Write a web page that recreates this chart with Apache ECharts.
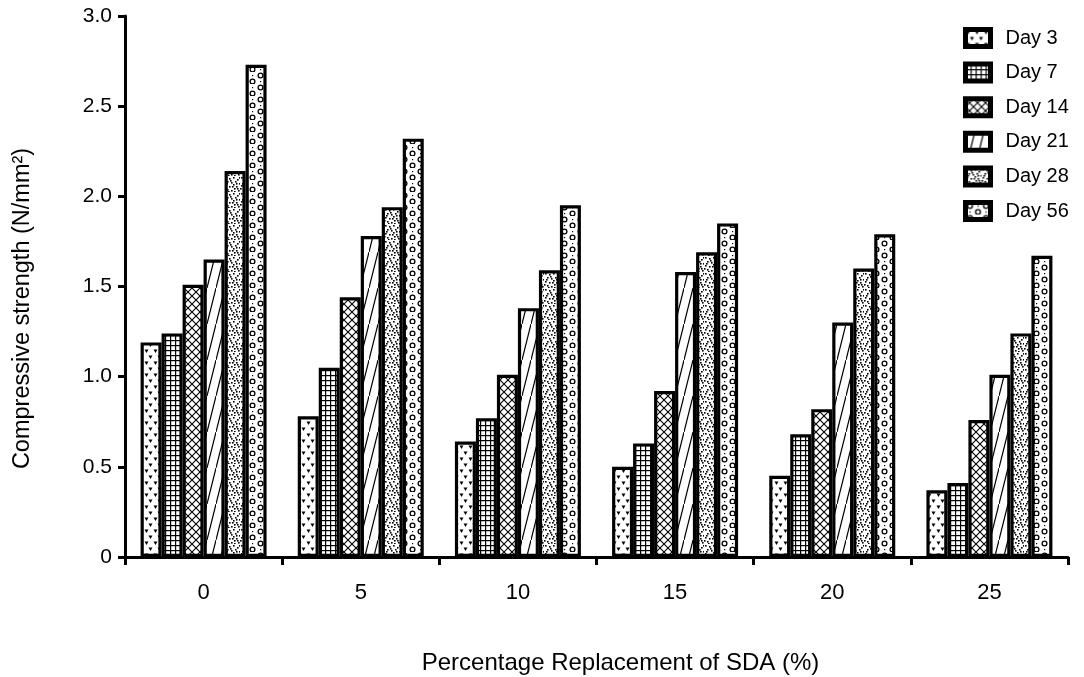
<!DOCTYPE html>
<html>
<head>
<meta charset="utf-8">
<script src="https://cdn.jsdelivr.net/npm/echarts@6/dist/echarts.min.js"></script>
<style>
html,body{margin:0;padding:0;background:#fff;}
#chart{width:1084px;height:677px;}
</style>
</head>
<body>
<div id="chart"></div>
<script>
// ---- data ----
var categories = ['0', '5', '10', '15', '20', '25'];
var seriesNames = ['Day 3', 'Day 7', 'Day 14', 'Day 21', 'Day 28', 'Day 56'];
var day3  = [1.19, 0.78, 0.64, 0.50, 0.45, 0.37];
var day7  = [1.24, 1.05, 0.77, 0.63, 0.68, 0.41];
var day14 = [1.51, 1.44, 1.01, 0.92, 0.82, 0.76];
var day21 = [1.65, 1.78, 1.38, 1.58, 1.30, 1.01];
var day28 = [2.14, 1.94, 1.59, 1.69, 1.60, 1.24];
var day56 = [2.73, 2.32, 1.95, 1.85, 1.79, 1.67];
var yTicks = [0, 0.5, 1.0, 1.5, 2.0, 2.5, 3.0];

// ---- hatch patterns (styling only) ----
function makeTile(w, h, draw) {
  var c = document.createElement('canvas');
  c.width = w; c.height = h;
  var g = c.getContext('2d');
  g.fillStyle = '#fff'; g.fillRect(0, 0, w, h);
  g.fillStyle = '#000'; g.strokeStyle = '#000';
  draw(g, w, h);
  return c;
}
var patterns = [
  // Day 3: sparse small dots / triangles
  makeTile(9, 12, function (g) {
    g.beginPath(); g.moveTo(0.5, 1.5); g.lineTo(4.5, 1.5); g.lineTo(2.5, 5); g.fill();
    g.beginPath(); g.moveTo(4.5, 7.5); g.lineTo(8.5, 7.5); g.lineTo(6.5, 11); g.fill();
  }),
  // Day 7: square grid
  makeTile(5, 5, function (g) {
    g.fillRect(0, 0, 5, 1.2); g.fillRect(0, 0, 1.2, 5);
  }),
  // Day 14: diagonal cross hatch
  makeTile(8, 8, function (g) {
    g.lineWidth = 1.1;
    g.beginPath(); g.moveTo(0, 0); g.lineTo(8, 8); g.moveTo(8, 0); g.lineTo(0, 8); g.stroke();
  }),
  // Day 21: steep diagonal lines
  makeTile(9, 36, function (g) {
    g.lineWidth = 1.2;
    g.beginPath(); g.moveTo(0, 36); g.lineTo(9, 0); g.stroke();
  }),
  // Day 28: dense stipple
  makeTile(16, 16, function (g) {
    var pts = [[1,1],[5,2],[9,1],[13,3],[3,5],[7,6],[11,5],[15,7],[1,9],[5,10],[9,8],[12,10],[3,13],[7,14],[10,12],[14,14],[6,4],[13,12],[2,7],[10,15],[0,12],[8,10],[15,1],[4,15],[12,7]];
    for (var i = 0; i < pts.length; i++) g.fillRect(pts[i][0], pts[i][1], 1.6, 1.6);
  }),
  // Day 56: small circles
  makeTile(16, 12, function (g) {
    g.lineWidth = 1.3;
    g.beginPath(); g.arc(4.5, 3.5, 2.4, 0, Math.PI * 2); g.stroke();
    g.beginPath(); g.arc(12.5, 9.5, 2.4, 0, Math.PI * 2); g.stroke();
    g.fillRect(12, 3, 1.2, 1.2); g.fillRect(4, 9, 1.2, 1.2);
  })
];

var values = [day3, day7, day14, day21, day28, day56];
var FONT = 'Liberation Sans, Arial, sans-serif';

var series = seriesNames.map(function (name, i) {
  return {
    name: name,
    type: 'bar',
    data: values[i],
    barWidth: 21,
    barGap: '0%',
    itemStyle: {
      color: { image: patterns[i], repeat: 'repeat' },
      borderColor: '#000',
      borderWidth: 3.2
    },
    emphasis: { disabled: true }
  };
});

var chart = echarts.init(document.getElementById('chart'));
chart.setOption({
  animation: false,
  backgroundColor: '#fff',
  grid: { left: 125, right: 16, top: 16, bottom: 120, containLabel: false, outerBoundsMode: 'none' },
  legend: {
    orient: 'vertical',
    left: 958,
    top: 22,
    icon: 'rect',
    itemWidth: 25,
    itemHeight: 17,
    itemGap: 12.6,
    itemStyle: { borderColor: '#000', borderWidth: 5 },
    textStyle: { fontFamily: FONT, fontSize: 20, lineHeight: 22, color: '#000', padding: [0, 0, 0, 10] },
    data: seriesNames
  },
  xAxis: {
    type: 'category',
    data: categories,
    name: 'Percentage Replacement of SDA (%)',
    nameLocation: 'middle',
    nameGap: 94,
    nameTextStyle: { fontFamily: FONT, fontSize: 24, color: '#000', padding: [0, 0, 0, 48] },
    axisLine: { lineStyle: { color: '#000', width: 3 } },
    axisTick: { show: true, length: 8, lineStyle: { color: '#000', width: 3 } },
    axisLabel: { fontFamily: FONT, fontSize: 22, color: '#000', margin: 25 },
    splitLine: { show: false }
  },
  yAxis: {
    type: 'value',
    min: yTicks[0],
    max: yTicks[yTicks.length - 1],
    interval: 0.5,
    name: 'Compressive strength (N/mm²)',
    nameLocation: 'middle',
    nameGap: 90,
    nameTextStyle: { fontFamily: FONT, fontSize: 23.5, color: '#000', padding: [0, 44, 0, 0] },
    axisLine: { show: true, lineStyle: { color: '#000', width: 3 } },
    axisTick: { show: true, length: 7, lineStyle: { color: '#000', width: 3 } },
    axisLabel: {
      fontFamily: FONT, fontSize: 21, color: '#000', margin: 13,
      formatter: function (v) { return v === 0 ? '0' : v.toFixed(1); }
    },
    splitLine: { show: false }
  },
  series: series
});
</script>
</body>
</html>
